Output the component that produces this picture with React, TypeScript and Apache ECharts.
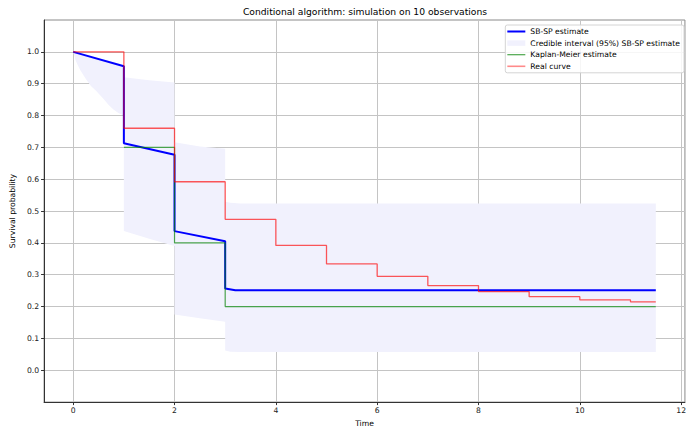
import React, { useEffect, useRef } from "react";
import * as echarts from "echarts";

// Tick positions
const xTicks = [0, 2, 4, 6, 8, 10, 12];
const yTicks = [0.0, 0.1, 0.2, 0.3, 0.4, 0.5, 0.6, 0.7, 0.8, 0.9, 1.0];

// SB-SP posterior mean estimate (piecewise, with jumps at the event times)
const sbspTime = [0, 1, 1, 2, 2, 3, 3, 3.2, 11.5];
const sbspSurv = [1.0, 0.955, 0.713, 0.677, 0.437, 0.405, 0.257, 0.251, 0.251];

// 95% credible band of the SB-SP estimate
const bandTime = [0, 0.05, 0.1, 0.15, 0.25, 0.35, 0.45, 0.6, 0.7, 0.8, 0.9, 0.999, 1, 1.5, 1.999, 2, 2.5, 2.999, 3, 3.1, 3.3, 11.5];
const bandUpper = [1.0, 0.998, 0.996, 0.994, 0.99, 0.985, 0.981, 0.976, 0.972, 0.967, 0.963, 0.959, 0.92, 0.911, 0.904, 0.716, 0.703, 0.696, 0.529, 0.526, 0.524, 0.524];
const bandLower = [1.0, 0.972, 0.955, 0.94, 0.915, 0.893, 0.878, 0.852, 0.833, 0.818, 0.807, 0.8, 0.437, 0.413, 0.39, 0.175, 0.163, 0.152, 0.062, 0.058, 0.057, 0.057];

// Kaplan-Meier estimate after the first event (right-continuous steps)
const kmTime = [1, 2, 3, 11.5];
const kmSurv = [0.7, 0.4, 0.2, 0.2];

// True survival curve
const realTime = [0, 1, 2, 3, 4, 5, 6, 7, 8, 9, 10, 11, 11.5];
const realSurv = [1.0, 0.76, 0.592, 0.474, 0.392, 0.334, 0.295, 0.266, 0.247, 0.231, 0.221, 0.215, 0.215];

const FONT = "DejaVu Sans";
const BASE = 7.67;
const BAND_COLOR = "#f1f1fd";

const pairs = (xs: number[], ys: number[]) => xs.map((x, i) => [x, ys[i]]);

// legend handle: horizontal bar of the given thickness inside an 18x9 box
const handle = (t: number) => {
  const y0 = 4.5 - t / 2;
  const y1 = 4.5 + t / 2;
  return `path://M0,0 M0,${y0} L18,${y0} L18,${y1} L0,${y1} Z M18,9`;
};

export default function App() {
  const ref = useRef<HTMLDivElement>(null);

  useEffect(() => {
    document.body.style.margin = "0";
    const chart = echarts.init(ref.current!, null, { renderer: "svg" });

    const bandItem = (params: any, api: any) => {
      const pts: number[][] = [];
      for (let i = 0; i < bandTime.length; i++) pts.push(api.coord([bandTime[i], bandUpper[i]]));
      for (let i = bandTime.length - 1; i >= 0; i--) pts.push(api.coord([bandTime[i], bandLower[i]]));
      return {
        type: "polygon",
        shape: { points: pts },
        style: { fill: BAND_COLOR, stroke: "none" },
      };
    };

    chart.setOption({
      animation: false,
      textStyle: { fontFamily: FONT },
      title: {
        text: "Conditional algorithm: simulation on 10 observations",
        left: 365,
        top: 7,
        textAlign: "center",
        padding: 0,
        textStyle: { fontSize: 9.2, fontWeight: "normal", color: "#000", fontFamily: FONT },
      },
      grid: {
        left: 43,
        right: 2,
        top: 20,
        bottom: 26,
        show: true,
        borderColor: "#8a8a8a",
        borderWidth: 1,
        backgroundColor: "transparent",
      },
      legend: {
        orient: "vertical",
        right: 5,
        top: 25,
        padding: [2, 4, 2, 2],
        itemWidth: 18,
        itemHeight: 9,
        itemGap: 2.6,
        backgroundColor: "rgba(255,255,255,0.85)",
        borderColor: "#d4d4d4",
        borderWidth: 1,
        borderRadius: 2,
        itemStyle: { borderWidth: 0 },
        textStyle: { fontSize: BASE, color: "#000", fontFamily: FONT, lineHeight: 9 },
        data: [
          { name: "SB-SP estimate", icon: handle(2) },
          { name: "Credible interval (95%) SB-SP estimate", icon: handle(5.5) },
          { name: "Kaplan-Meier estimate", icon: handle(1.2) },
          { name: "Real curve", icon: handle(1.6) },
        ],
      },
      xAxis: {
        type: "value",
        min: -0.575,
        max: 12.075,
        axisLine: { show: true, onZero: false, lineStyle: { color: "#333", width: 1 } },
        axisTick: { show: true, length: 3, customValues: xTicks, lineStyle: { color: "#333" } },
        axisLabel: {
          customValues: xTicks,
          fontSize: BASE,
          color: "#222",
          margin: 4,
          formatter: (v: number) => String(v),
        },
        splitLine: { show: true, lineStyle: { color: "#c4c4c4", width: 1 } },
        name: "Time",
        nameLocation: "middle",
        nameGap: 15,
        nameTextStyle: { fontSize: BASE, color: "#000" },
      },
      yAxis: {
        type: "value",
        min: -0.1,
        max: 1.1,
        axisLine: { show: true, onZero: false, lineStyle: { color: "#333", width: 1 } },
        axisTick: { show: true, length: 3, customValues: yTicks, lineStyle: { color: "#333" } },
        axisLabel: {
          customValues: yTicks,
          fontSize: BASE,
          color: "#222",
          margin: 5,
          formatter: (v: number) => v.toFixed(1),
        },
        splitLine: { show: true, lineStyle: { color: "#c4c4c4", width: 1 } },
        name: "Survival probability",
        nameLocation: "middle",
        nameRotate: 90,
        nameGap: 20,
        nameTextStyle: { fontSize: BASE, color: "#000" },
      },
      series: [
        {
          name: "Credible interval (95%) SB-SP estimate",
          type: "custom",
          renderItem: bandItem,
          data: [[0, 0]],
          clip: true,
          silent: true,
          itemStyle: { color: BAND_COLOR },
          z: 1,
        },
        {
          name: "SB-SP estimate",
          type: "line",
          data: pairs(sbspTime, sbspSurv),
          symbol: "none",
          lineStyle: { color: "#0000ff", width: 2 },
          itemStyle: { color: "#0000ff" },
          z: 2,
        },
        {
          name: "Kaplan-Meier estimate",
          type: "line",
          step: "end",
          data: pairs(kmTime, kmSurv),
          symbol: "none",
          lineStyle: { color: "#008000", width: 1.2, opacity: 0.7 },
          itemStyle: { color: "#4ca64c" },
          z: 3,
        },
        {
          name: "Real curve",
          type: "line",
          step: "end",
          data: pairs(realTime, realSurv),
          symbol: "none",
          lineStyle: { color: "#ff0000", width: 1.3, opacity: 0.65 },
          itemStyle: { color: "#ff8a8a" },
          z: 4,
        },
      ],
    });

    return () => chart.dispose();
  }, []);

  return <div ref={ref} style={{ width: 689, height: 432 }} />;
}
